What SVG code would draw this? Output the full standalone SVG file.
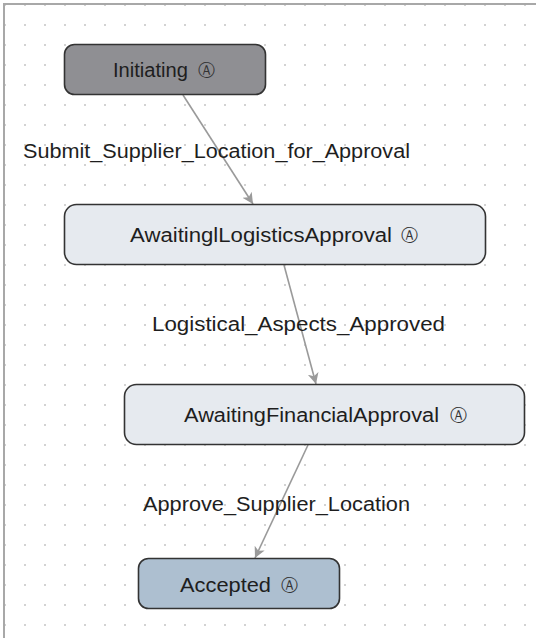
<svg xmlns="http://www.w3.org/2000/svg" width="536" height="638" viewBox="0 0 536 638">
  <defs>
    <pattern id="grid" width="20" height="20" patternUnits="userSpaceOnUse">
      <rect x="4" y="4" width="2" height="2" fill="#d2d2d2"/>
    </pattern>
    <marker id="arrow" viewBox="0 0 12 12" refX="11" refY="6" markerWidth="12" markerHeight="12" markerUnits="userSpaceOnUse" orient="auto">
      <path d="M0,0.5 L11,6 L0,11.5 L3,6 Z" fill="#9a9a9a"/>
    </marker>
  </defs>
  <style>
    .node rect { stroke: #333; stroke-width: 1.6; }
    .label, .name { font-family: "Liberation Sans", Arial, sans-serif; font-size: 20px; fill: #1e1e1e; }
    .badge { font-family: "DejaVu Sans", sans-serif; font-size: 17px; fill: #333; text-anchor: middle; }
    .edge { stroke: #9a9a9a; stroke-width: 1.6; fill: none; marker-end: url(#arrow); }
  </style>

  <!-- canvas -->
  <rect x="0" y="0" width="536" height="638" fill="#fff"/>
  <rect x="5" y="5" width="531" height="633" fill="url(#grid)"/>
  <path d="M4,638 V4 H536" fill="none" stroke="#a8a8a8" stroke-width="2"/>

  <!-- connectors -->
  <g id="connectors">
    <line class="edge" x1="183" y1="95" x2="253" y2="204"/>
    <line class="edge" x1="284" y1="265" x2="316" y2="384"/>
    <line class="edge" x1="308" y1="445" x2="255" y2="558"/>
    <text class="label" x="23" y="158" textLength="387" lengthAdjust="spacingAndGlyphs">Submit_Supplier_Location_for_Approval</text>
    <text class="label" x="152" y="331" textLength="293" lengthAdjust="spacingAndGlyphs">Logistical_Aspects_Approved</text>
    <text class="label" x="143" y="511" textLength="267" lengthAdjust="spacingAndGlyphs">Approve_Supplier_Location</text>
  </g>

  <!-- states -->
  <g id="initiating" class="node">
    <rect x="64.5" y="44.5" width="201" height="50" rx="10" fill="#8f8f93"/>
    <text class="name" x="113" y="77" textLength="75" lengthAdjust="spacingAndGlyphs">Initiating</text>
    <text class="badge" x="206" y="76">Ⓐ</text>
  </g>
  <g id="awaiting-logistics" class="node">
    <rect x="64.5" y="204.5" width="421" height="60" rx="12" fill="#e6eaef"/>
    <text class="name" x="130" y="242" textLength="262" lengthAdjust="spacingAndGlyphs">AwaitinglLogisticsApproval</text>
    <text class="badge" x="409.5" y="241">Ⓐ</text>
  </g>
  <g id="awaiting-financial" class="node">
    <rect x="124.5" y="384.5" width="400" height="60" rx="12" fill="#e6eaef"/>
    <text class="name" x="184" y="422" textLength="255" lengthAdjust="spacingAndGlyphs">AwaitingFinancialApproval</text>
    <text class="badge" x="458" y="421">Ⓐ</text>
  </g>
  <g id="accepted" class="node">
    <rect x="138.5" y="558.5" width="201" height="50" rx="10" fill="#adbfd0"/>
    <text class="name" x="180" y="592" textLength="91" lengthAdjust="spacingAndGlyphs">Accepted</text>
    <text class="badge" x="289.5" y="591">Ⓐ</text>
  </g>
</svg>
